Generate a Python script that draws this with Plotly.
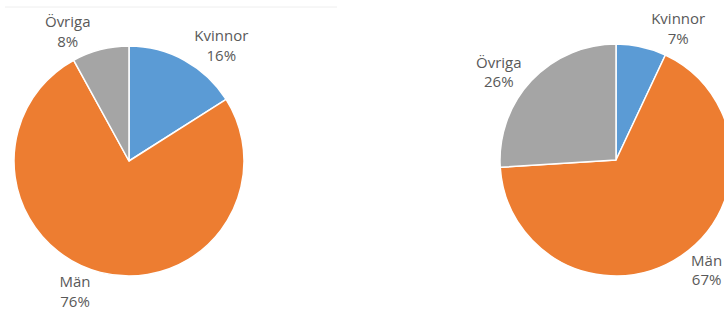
import plotly.graph_objects as go

labels = ["Kvinnor", "Män", "Övriga"]
values_left = [16, 76, 8]
values_right = [7, 67, 26]
colors = ["#5B9BD5", "#ED7D31", "#A5A5A5"]

W, H = 740, 311

def dom(cx, cy, r):
    return dict(x=[(cx - r) / W, (cx + r) / W], y=[(H - cy - r) / H, (H - cy + r) / H])

common = dict(
    labels=labels,
    sort=False,
    direction="clockwise",
    rotation=0,
    marker=dict(colors=colors, line=dict(color="white", width=1.5)),
    textposition="outside",
    texttemplate="%{label}<br>%{percent:.0%}",
    textfont=dict(family="Open Sans", size=15, color="#595959"),
    showlegend=False,
    automargin=False,
    hoverinfo="label+percent",
)

fig = go.Figure()
fig.add_trace(go.Pie(values=values_left, domain=dom(129, 161, 115), **common))
fig.add_trace(go.Pie(values=values_right, domain=dom(616, 160, 116), **common))

fig.add_shape(type="line", xref="paper", yref="paper",
              x0=5 / W, x1=337 / W, y0=(H - 7) / H, y1=(H - 7) / H,
              line=dict(color="#EEEEEE", width=1))

fig.update_layout(
    width=W, height=H,
    margin=dict(l=0, r=0, t=0, b=0, autoexpand=False),
    paper_bgcolor="white",
    plot_bgcolor="white",
)

fig.write_html("out.html",
               config={"displayModeBar": False},
               post_script="document.body.style.margin='0';document.body.style.overflow='hidden';document.documentElement.style.overflow='hidden';")
